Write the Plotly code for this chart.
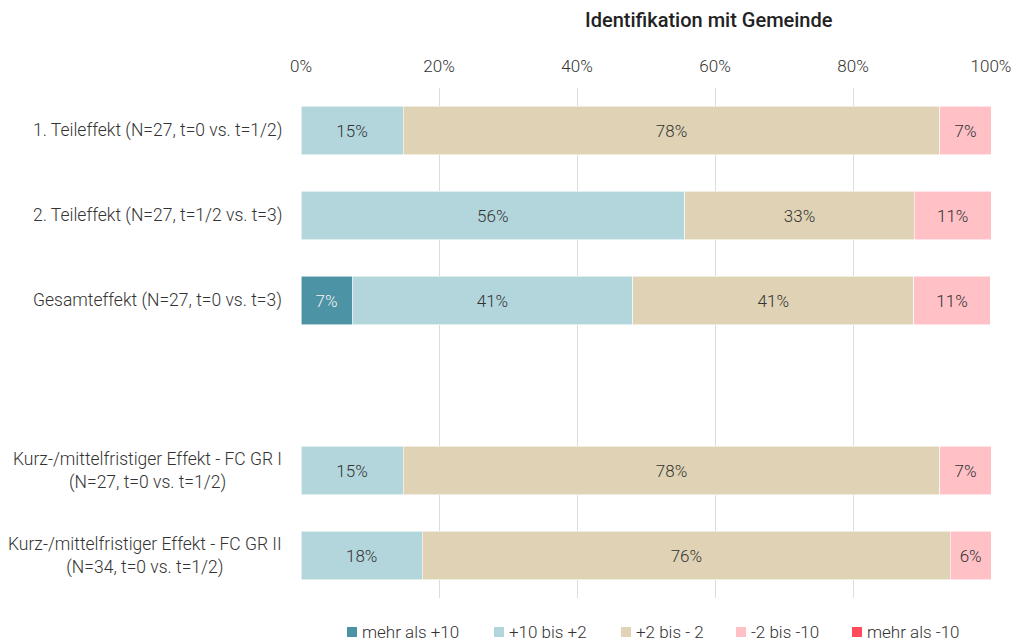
import plotly.graph_objects as go

# Rows from top to bottom; the blank entry leaves a gap between the groups
row_ids = ["r1", "r2", "r3", "gap", "r4", "r5"]
row_labels = [
    "1. Teileffekt (N=27, t=0 vs. t=1/2)",
    "2. Teileffekt (N=27, t=1/2 vs. t=3)",
    "Gesamteffekt (N=27, t=0 vs. t=3)",
    "",
    "Kurz-/mittelfristiger Effekt - FC GR I<br>(N=27, t=0 vs. t=1/2)",
    "Kurz-/mittelfristiger Effekt - FC GR II<br>(N=34, t=0 vs. t=1/2)",
]

series_names = ["mehr als +10", "+10 bis +2", "+2 bis - 2", "-2 bis -10", "mehr als -10"]
mehr_als_plus10 = [0.0, 0.0, 7.4, None, 0.0, 0.0]
plus10_bis_plus2 = [14.8, 55.6, 40.7, None, 14.8, 17.6]
plus2_bis_minus2 = [77.8, 33.3, 40.7, None, 77.8, 76.5]
minus2_bis_minus10 = [7.4, 11.1, 11.1, None, 7.4, 5.9]
mehr_als_minus10 = [0.0, 0.0, 0.0, None, 0.0, 0.0]
series_values = [mehr_als_plus10, plus10_bis_plus2, plus2_bis_minus2,
                 minus2_bis_minus10, mehr_als_minus10]

colors = ["#4B93A5", "#B3D6DD", "#E0D3B5", "#FFC0C6", "#FF4B5C"]
text_colors = ["#F2F2F2", "#333333", "#333333", "#333333", "#F2F2F2"]

x_ticks = [0, 20, 40, 60, 80, 100]

FONT = "Roboto"
FS = 17
TXT = "#333333"

W, H = 1016, 642
ML, MR, MT, MB = 301, 25, 88, 44
PW, PH = W - ML - MR, H - MT - MB

fig = go.Figure()

for name, vals, col, tcol in zip(series_names, series_values, colors, text_colors):
    xs = [v if v is not None else 0 for v in vals]
    texts = [f"{round(v)}%" if (v is not None and v > 0) else "" for v in vals]
    fig.add_trace(go.Bar(
        name=name,
        y=row_ids,
        x=xs,
        orientation="h",
        marker=dict(color=col, line=dict(color="rgba(255,255,255,0.7)", width=0.8)),
        text=texts,
        textposition="inside",
        insidetextanchor="middle",
        textangle=0,
        textfont=dict(family=FONT, size=FS, color=tcol, weight=300),
        hoverinfo="skip",
        width=0.565,
        showlegend=False,
    ))

fig.update_layout(
    barmode="stack",
    width=W,
    height=H,
    margin=dict(l=ML, r=MR, t=MT, b=MB, autoexpand=False),
    paper_bgcolor="white",
    plot_bgcolor="white",
    font=dict(family=FONT, size=FS, color=TXT, weight=300),
    showlegend=False,
    xaxis=dict(
        side="top",
        range=[0, 100],
        tickvals=x_ticks,
        ticktext=[f"{t}%" for t in x_ticks],
        showgrid=True,
        gridcolor="#DDDDDD",
        gridwidth=1,
        zeroline=False,
        showline=False,
        ticks="",
        ticklabelstandoff=12,
        tickfont=dict(family=FONT, size=FS, color=TXT, weight=300),
        fixedrange=True,
    ),
    yaxis=dict(
        type="category",
        categoryorder="array",
        categoryarray=row_ids,
        autorange="reversed",
        showticklabels=False,
        showgrid=False,
        zeroline=False,
        fixedrange=True,
    ),
)

# Row labels, right-aligned against the plot with centred line breaks
for rid, lab in zip(row_ids, row_labels):
    if not lab:
        continue
    fig.add_annotation(
        x=0, xref="paper", xanchor="right", xshift=-17,
        y=rid, yref="y", yanchor="middle",
        text=lab, showarrow=False, align="center",
        font=dict(family=FONT, size=17.5, color=TXT, weight=300),
    )

fig.add_annotation(
    x=(709 - ML) / PW, xref="paper", xanchor="center",
    y=1 + (MT - 20) / PH, yref="paper", yanchor="middle",
    text="Identifikation mit Gemeinde", showarrow=False,
    font=dict(family=FONT, size=20, color="#222222", weight=500),
)

# Legend row below the plot: small colour squares followed by the series names
legend_left_px = [347, 494, 621, 736, 852]
legend_y_px = 632
sq = 10
for name, col, lx in zip(series_names, colors, legend_left_px):
    x0 = (lx - ML) / PW
    x1 = (lx + sq - ML) / PW
    y0 = -(legend_y_px + sq / 2 - (MT + PH)) / PH
    y1 = -(legend_y_px - sq / 2 - (MT + PH)) / PH
    fig.add_shape(type="rect", xref="paper", yref="paper",
                  x0=x0, x1=x1, y0=y0, y1=y1,
                  fillcolor=col, line=dict(width=0))
    fig.add_annotation(
        x=(lx + sq + 3 - ML) / PW, xref="paper", xanchor="left",
        y=-(legend_y_px - (MT + PH)) / PH, yref="paper", yanchor="middle",
        text=name, showarrow=False,
        font=dict(family=FONT, size=FS, color=TXT, weight=300),
    )

fig.write_html("out.html")
